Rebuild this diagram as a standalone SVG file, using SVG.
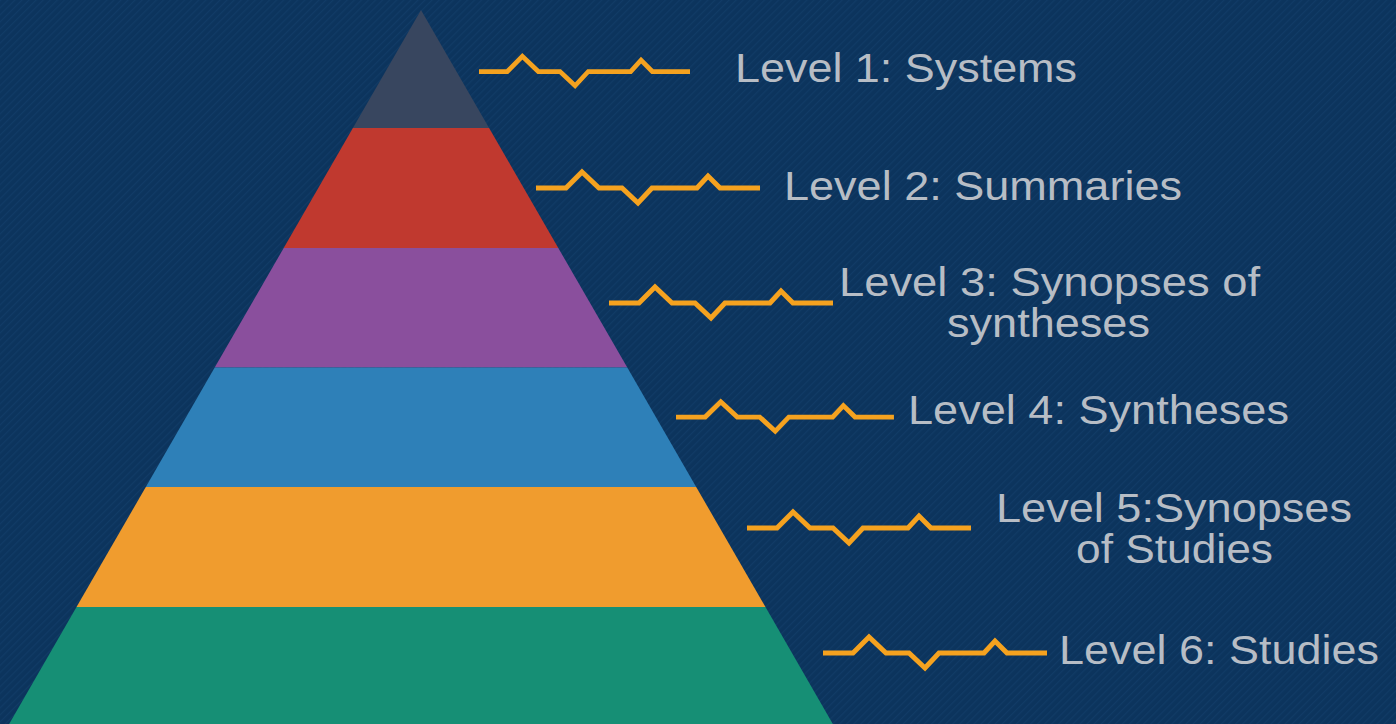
<svg xmlns="http://www.w3.org/2000/svg" width="1396" height="724" viewBox="0 0 1396 724">
  <style>
    .lbl { font-family: "Liberation Sans", Arial, sans-serif; font-size: 40px; fill: #b7bdc5; }
    .pulse { fill: none; stroke: #f5a21f; stroke-width: 5; stroke-linejoin: miter; stroke-linecap: butt; }
  </style>
  <defs>
    <pattern id="stripes" width="5" height="5" patternUnits="userSpaceOnUse" patternTransform="rotate(-45)">
      <rect width="5" height="5" fill="#0c345d"/>
      <rect width="5" height="1.2" fill="#113b66"/>
    </pattern>
    <path id="beat" d="M0,0 H30 L46,-16 L63,0 H86 L102,15 L116,0 H161 L172,-12 L184,0 H224"/>
  </defs>

  <rect width="1396" height="724" fill="url(#stripes)"/>

  <g id="pyramid">
    <polygon id="tier1" points="421,10 489.1,128 352.9,128" fill="#38465f"/>
    <polygon id="tier2" points="352.9,128 489.1,128 558.3,248 283.7,248" fill="#c0392f"/>
    <polygon id="tier3" points="283.7,248 558.3,248 627.3,367.5 214.7,367.5" fill="#8a4f9d"/>
    <polygon id="tier4" points="214.7,367.5 627.3,367.5 696.2,487 145.8,487" fill="#2e80b8"/>
    <polygon id="tier5" points="145.8,487 696.2,487 765.5,607 76.5,607" fill="#f09c2e"/>
    <polygon id="tier6" points="76.5,607 765.5,607 834,726 8,726" fill="#168f75"/>
  </g>

  <g id="connectors">
    <use href="#beat" class="pulse" transform="translate(479,71.5) scale(0.942,0.95)"/>
    <use href="#beat" class="pulse" transform="translate(536,188)"/>
    <use href="#beat" class="pulse" transform="translate(609,303)"/>
    <use href="#beat" class="pulse" transform="translate(676,417) scale(0.973,0.95)"/>
    <use href="#beat" class="pulse" transform="translate(747,528)"/>
    <use href="#beat" class="pulse" transform="translate(823,653)"/>
  </g>

  <g id="level1">
    <text class="lbl" x="735" y="82" textLength="342" lengthAdjust="spacingAndGlyphs">Level 1: Systems</text>
  </g>
  <g id="level2">
    <text class="lbl" x="784" y="200" textLength="398" lengthAdjust="spacingAndGlyphs">Level 2: Summaries</text>
  </g>
  <g id="level3">
    <text class="lbl" x="839" y="296" textLength="421" lengthAdjust="spacingAndGlyphs">Level 3: Synopses of</text>
    <text class="lbl" x="947" y="337" textLength="203" lengthAdjust="spacingAndGlyphs">syntheses</text>
  </g>
  <g id="level4">
    <text class="lbl" x="908" y="424" textLength="381" lengthAdjust="spacingAndGlyphs">Level 4: Syntheses</text>
  </g>
  <g id="level5">
    <text class="lbl" x="996" y="522" textLength="356" lengthAdjust="spacingAndGlyphs">Level 5:Synopses</text>
    <text class="lbl" x="1076" y="563" textLength="197" lengthAdjust="spacingAndGlyphs">of Studies</text>
  </g>
  <g id="level6">
    <text class="lbl" x="1059" y="664" textLength="320" lengthAdjust="spacingAndGlyphs">Level 6: Studies</text>
  </g>
</svg>
